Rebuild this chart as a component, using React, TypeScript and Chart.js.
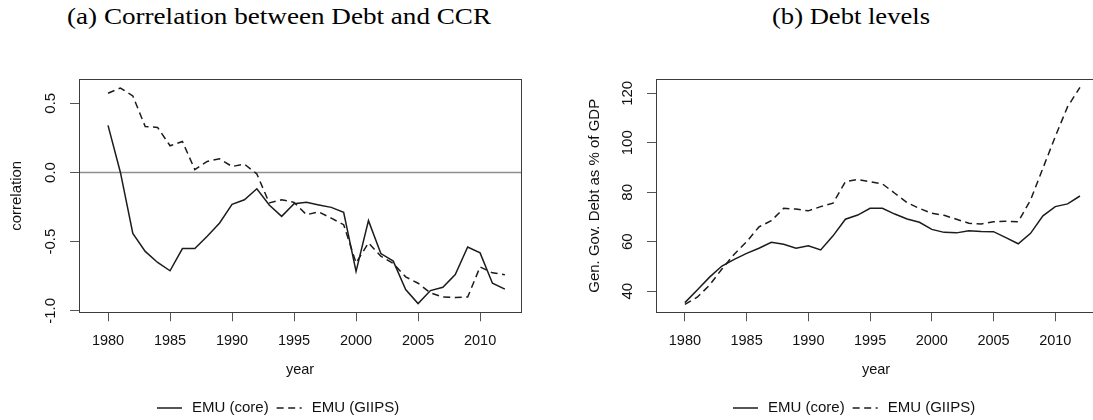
import React, { useEffect, useLayoutEffect, useRef } from "react";
import { Chart, registerables } from "chart.js";

Chart.register(...registerables);

// ---------------- data ----------------
const years = [
  1980, 1981, 1982, 1983, 1984, 1985, 1986, 1987, 1988, 1989, 1990, 1991, 1992,
  1993, 1994, 1995, 1996, 1997, 1998, 1999, 2000, 2001, 2002, 2003, 2004, 2005,
  2006, 2007, 2008, 2009, 2010, 2011, 2012,
];

const corrCore = [
  0.34, 0.0, -0.44, -0.57, -0.65, -0.71, -0.55, -0.55, -0.46, -0.365, -0.23,
  -0.197, -0.118, -0.235, -0.317, -0.226, -0.216, -0.235, -0.252, -0.288, -0.714,
  -0.348, -0.586, -0.64, -0.846, -0.947, -0.853, -0.829, -0.738, -0.538, -0.581,
  -0.8, -0.843,
];

const corrGiips = [
  0.572, 0.61, 0.553, 0.332, 0.325, 0.193, 0.224, 0.02, 0.08, 0.099, 0.043,
  0.06, -0.01, -0.22, -0.197, -0.216, -0.305, -0.285, -0.33, -0.377, -0.653,
  -0.509, -0.605, -0.658, -0.754, -0.8, -0.87, -0.9, -0.903, -0.9, -0.682,
  -0.725, -0.738,
];

const debtCore = [
  35.4, 40.5, 45.7, 50.2, 52.9, 55.3, 57.4, 59.8, 59.0, 57.4, 58.4, 56.7, 62.4,
  69.1, 70.8, 73.5, 73.5, 71.2, 69.2, 67.9, 65.0, 63.8, 63.6, 64.5, 64.2, 64.1,
  61.7, 59.2, 63.4, 70.5, 74.2, 75.3, 78.5,
];

const debtGiips = [
  34.7, 37.6, 42.5, 49.0, 55.0, 60.0, 66.0, 68.5, 73.5, 73.2, 72.5, 74.2, 75.6,
  84.3, 85.2, 84.3, 83.4, 79.6, 75.8, 73.5, 71.5, 70.7, 69.1, 67.5, 67.2, 68.1,
  68.3, 68.1, 76.9, 89.7, 102.5, 114.6, 122.4,
];

const yearTicks = [1980, 1985, 1990, 1995, 2000, 2005, 2010];
const corrTicks = [-1.0, -0.5, 0.0, 0.5];
const debtTicks = [40, 60, 80, 100, 120];
const seriesLabels = ["EMU (core)", "EMU (GIIPS)"];
const panelTitles = ["(a) Correlation between Debt and CCR", "(b) Debt levels"];

// ---------------- helpers ----------------
const SANS = '"Liberation Sans", Arial, sans-serif';
const INK = "#111111";
const LINE = "#1c1c1c";
const DASH = [7, 4.5];

const rAxesPlugin = {
  id: "rAxes",
  beforeDatasetsDraw(chart: any, _args: any, opts: any) {
    if (opts.hline === null || opts.hline === undefined) return;
    const { ctx, chartArea: a } = chart;
    const y = chart.scales.y.getPixelForValue(opts.hline);
    ctx.save();
    ctx.strokeStyle = "#8e8e8e";
    ctx.lineWidth = 1.5;
    ctx.beginPath();
    ctx.moveTo(a.left, y);
    ctx.lineTo(a.right, y);
    ctx.stroke();
    ctx.restore();
  },
  afterDraw(chart: any, _args: any, opts: any) {
    const { ctx, chartArea: a } = chart;
    const ys = chart.scales.y;
    ctx.save();
    // plot box
    ctx.strokeStyle = "#3c3c3c";
    ctx.lineWidth = 1;
    ctx.strokeRect(
      Math.round(a.left) + 0.5,
      Math.round(a.top) + 0.5,
      Math.round(a.right) - Math.round(a.left),
      Math.round(a.bottom) - Math.round(a.top)
    );
    // rotated y tick labels (R style)
    ctx.fillStyle = INK;
    ctx.font = "15px " + SANS;
    ctx.textAlign = "center";
    ctx.textBaseline = "middle";
    ys.ticks.forEach((t: any) => {
      const y = ys.getPixelForValue(t.value);
      ctx.save();
      ctx.translate(a.left - 28, y);
      ctx.rotate(-Math.PI / 2);
      ctx.fillText(Number(t.value).toFixed(opts.decimals), 0, 0);
      ctx.restore();
    });
    // legend (R style: segment + label)
    let x = opts.legendX;
    const ly = opts.legendY;
    ctx.textAlign = "left";
    chart.data.datasets.forEach((ds: any) => {
      ctx.strokeStyle = ds.borderColor;
      ctx.lineWidth = ds.borderWidth;
      ctx.setLineDash(ds.borderDash || []);
      ctx.beginPath();
      ctx.moveTo(x, ly);
      ctx.lineTo(x + 25, ly);
      ctx.stroke();
      ctx.setLineDash([]);
      x += 25 + 10;
      ctx.fillText(ds.label, x, ly);
      x += ctx.measureText(ds.label).width + 8;
    });
    ctx.restore();
  },
};

type Panel = {
  core: number[];
  giips: number[];
  yMin: number;
  yMax: number;
  yTicks: number[];
  yTitle: string;
  yTitlePad: number;
  padL: number;
  padR: number;
  yWidth: number;
  hline: number | null;
  decimals: number;
  legendX: number;
};

function makeConfig(p: Panel): any {
  const mk = (vals: number[]) => years.map((x, i) => ({ x, y: vals[i] }));
  return {
    type: "line",
    data: {
      datasets: [
        {
          label: seriesLabels[0],
          data: mk(p.core),
          borderColor: LINE,
          backgroundColor: LINE,
          borderWidth: 1.5,
          pointRadius: 0,
          tension: 0,
          fill: false,
        },
        {
          label: seriesLabels[1],
          data: mk(p.giips),
          borderColor: LINE,
          backgroundColor: LINE,
          borderWidth: 1.5,
          borderDash: DASH,
          pointRadius: 0,
          tension: 0,
          fill: false,
        },
      ],
    },
    options: {
      animation: false,
      responsive: false,
      devicePixelRatio: 1,
      events: [],
      layout: { padding: { left: p.padL, right: p.padR, top: 79.3, bottom: 47.7 } },
      scales: {
        x: {
          type: "linear",
          min: 1977.66,
          max: 2013.3,
          afterBuildTicks: (s: any) => {
            s.ticks = yearTicks.map((value) => ({ value }));
          },
          afterFit: (s: any) => {
            s.height = 70;
          },
          grid: {
            drawOnChartArea: false,
            drawTicks: true,
            tickLength: 9,
            tickColor: "#555555",
            tickWidth: 1,
          },
          border: { display: false },
          ticks: {
            color: INK,
            font: { family: SANS, size: 14.5 },
            padding: 11,
            maxRotation: 0,
            autoSkip: false,
            callback: (v: any) => String(v),
          },
          title: {
            display: true,
            text: "year",
            color: INK,
            font: { family: SANS, size: 14.5 },
            padding: { top: 4, bottom: 3.6 },
          },
        },
        y: {
          type: "linear",
          min: p.yMin,
          max: p.yMax,
          afterBuildTicks: (s: any) => {
            s.ticks = p.yTicks.map((value) => ({ value }));
          },
          afterFit: (s: any) => {
            s.width = p.yWidth;
          },
          grid: {
            drawOnChartArea: false,
            drawTicks: true,
            tickLength: 9,
            tickColor: "#555555",
            tickWidth: 1,
          },
          border: { display: false },
          ticks: { display: false },
          title: {
            display: true,
            text: p.yTitle,
            color: INK,
            font: { family: SANS, size: 15 },
            padding: { top: p.yTitlePad, bottom: 4 },
          },
        },
      },
      plugins: {
        legend: { display: false },
        tooltip: { enabled: false },
        rAxes: { hline: p.hline, decimals: p.decimals, legendX: p.legendX, legendY: 408 },
      },
    },
    plugins: [rAxesPlugin],
  };
}

function ChartCanvas(props: { left: number; width: number; panel: Panel }) {
  const ref = useRef<HTMLCanvasElement | null>(null);
  useEffect(() => {
    if (!ref.current) return;
    const chart = new Chart(ref.current, makeConfig(props.panel));
    return () => chart.destroy();
  }, []);
  return (
    <canvas
      ref={ref}
      width={props.width}
      height={430}
      style={{ position: "absolute", left: props.left, top: 0, width: props.width, height: 430 }}
    />
  );
}

function Caption(props: { text: string; left: number; width: number }) {
  const ref = useRef<HTMLSpanElement | null>(null);
  useLayoutEffect(() => {
    const el = ref.current;
    if (!el) return;
    el.style.transform = "none";
    const w = el.getBoundingClientRect().width;
    if (w > 0) el.style.transform = `scaleX(${props.width / w})`;
  }, []);
  return (
    <span
      ref={ref}
      style={{
        position: "absolute",
        left: props.left,
        top: 2,
        display: "inline-block",
        transformOrigin: "0 0",
        fontFamily: '"Liberation Serif", "Times New Roman", serif',
        fontSize: 24,
        lineHeight: "28px",
        whiteSpace: "nowrap",
        color: "#000",
      }}
    >
      {props.text}
    </span>
  );
}

export default function App() {
  const left: Panel = {
    core: corrCore,
    giips: corrGiips,
    yMin: -1.01,
    yMax: 0.673,
    yTicks: corrTicks,
    yTitle: "correlation",
    yTitlePad: 4,
    padL: 4,
    padR: 5,
    yWidth: 75,
    hline: 0,
    decimals: 1,
    legendX: 157,
  };
  const right: Panel = {
    core: debtCore,
    giips: debtGiips,
    yMin: 31.5,
    yMax: 125.66,
    yTicks: debtTicks,
    yTitle: "Gen. Gov. Debt as % of GDP",
    yTitlePad: 11.5,
    padL: 4,
    padR: 0,
    yWidth: 82,
    hline: null,
    decimals: 0,
    legendX: 163,
  };
  return (
    <div
      style={{
        position: "absolute",
        left: 0,
        top: 0,
        width: 1093,
        height: 420,
        overflow: "hidden",
        background: "#ffffff",
      }}
    >
      <Caption text={panelTitles[0]} left={67} width={424} />
      <Caption text={panelTitles[1]} left={772} width={158} />
      <ChartCanvas left={0} width={526} panel={left} />
      <ChartCanvas left={570} width={526} panel={right} />
    </div>
  );
}
